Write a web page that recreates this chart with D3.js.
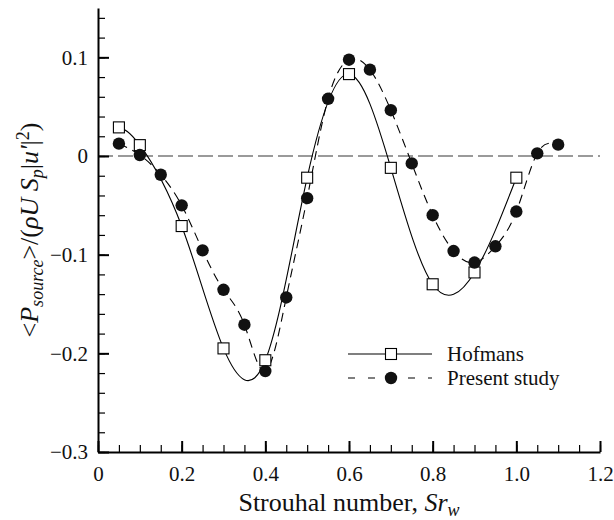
<!DOCTYPE html>
<html><head><meta charset="utf-8">
<script src="https://cdn.jsdelivr.net/npm/d3@7"></script>
</head><body style="margin:0">
<svg id="chart" width="614" height="520"></svg>
<script>
// ---- data ----
const hofmansX = [0.05, 0.1, 0.2, 0.3, 0.4, 0.5, 0.6, 0.7, 0.8, 0.9, 1.0];
const hofmansY = [0.029, 0.011, -0.071, -0.195, -0.207, -0.022, 0.083, -0.012, -0.130, -0.118, -0.022];
const presentX = [0.05, 0.1, 0.15, 0.2, 0.25, 0.3, 0.35, 0.4, 0.45, 0.5, 0.55, 0.6, 0.65, 0.7, 0.75, 0.8, 0.85, 0.9, 0.95, 1.0, 1.05, 1.1];
const presentY = [0.0125, 0.001, -0.019, -0.050, -0.0956, -0.1356, -0.171, -0.218, -0.1434, -0.0427, 0.058, 0.0976, 0.0875, 0.0464, -0.0075, -0.060, -0.0963, -0.108, -0.0915, -0.0563, 0.0027, 0.0115];
const xTicks = [0, 0.2, 0.4, 0.6, 0.8, 1.0, 1.2];
const xTickLabels = ["0", "0.2", "0.4", "0.6", "0.8", "1.0", "1.2"];
const yTicks = [0.1, 0, -0.1, -0.2, -0.3];
const yTickLabels = ["0.1", "0", "\u22120.1", "\u22120.2", "\u22120.3"];
const seriesNames = ["Hofmans", "Present study"];

// ---- layout ----
const W = 614, H = 520;
const m = {left: 98, right: 14, top: 8, bottom: 68};
const svg = d3.select("#chart");
const FONT = "Liberation Serif";
const x = d3.scaleLinear().domain([0, 1.2]).range([m.left, W - m.right]);
const y = d3.scaleLinear().domain([-0.3, 0.15]).range([H - m.bottom, m.top]);

// zero reference line
svg.append("line")
  .attr("x1", x(0)).attr("x2", x(1.2))
  .attr("y1", y(0)).attr("y2", y(0))
  .attr("stroke", "#7a7a7a").attr("stroke-width", 1.6)
  .attr("stroke-dasharray", "15,5");

// minor ticks
const xMinor = d3.range(0, 1.2001, 0.05);
const yMinor = d3.range(-0.3, 0.1501, 0.02);
svg.append("g").attr("transform", `translate(0,${y(-0.3)})`)
  .call(d3.axisBottom(x).tickValues(xMinor).tickSize(-7).tickFormat("").tickSizeOuter(0))
  .call(g => g.select(".domain").remove())
  .call(g => g.selectAll("text").remove())
  .selectAll("line").attr("stroke", "#000").attr("stroke-width", 1.2);
svg.append("g").attr("transform", `translate(${x(0)},0)`)
  .call(d3.axisLeft(y).tickValues(yMinor).tickSize(-7).tickFormat("").tickSizeOuter(0))
  .call(g => g.select(".domain").remove())
  .call(g => g.selectAll("text").remove())
  .selectAll("line").attr("stroke", "#000").attr("stroke-width", 1.2);

// major axes
const xAxis = svg.append("g").attr("transform", `translate(0,${y(-0.3)})`)
  .call(d3.axisBottom(x).tickValues(xTicks).tickSize(-11).tickSizeOuter(0).tickPadding(14)
    .tickFormat((d, i) => xTickLabels[i]));
const yAxis = svg.append("g").attr("transform", `translate(${x(0)},0)`)
  .call(d3.axisLeft(y).tickValues(yTicks).tickSize(-11).tickSizeOuter(0).tickPadding(10)
    .tickFormat((d, i) => yTickLabels[i]));
[xAxis, yAxis].forEach(g => {
  g.attr("font-family", FONT).attr("font-size", 21);
  g.select(".domain").attr("stroke", "#000").attr("stroke-width", 2);
  g.selectAll(".tick line").attr("stroke", "#000").attr("stroke-width", 2);
  g.selectAll("text").attr("fill", "#111").attr("font-family", FONT).attr("font-size", 21);
});
xAxis.selectAll("text").attr("dy", "0.71em");

// curves
const hofmans = hofmansX.map((v, i) => [v, hofmansY[i]]);
const present = presentX.map((v, i) => [v, presentY[i]]);
const line = d3.line().x(d => x(d[0])).y(d => y(d[1])).curve(d3.curveNatural);

svg.append("path").datum(present).attr("d", line)
  .attr("fill", "none").attr("stroke", "#000").attr("stroke-width", 1.1)
  .attr("stroke-dasharray", "9,6");
svg.append("path").datum(hofmans).attr("d", line)
  .attr("fill", "none").attr("stroke", "#000").attr("stroke-width", 1.1);

// markers
const S = 11;
svg.append("g").selectAll("rect").data(hofmans).join("rect")
  .attr("x", d => x(d[0]) - S / 2).attr("y", d => y(d[1]) - S / 2)
  .attr("width", S).attr("height", S)
  .attr("fill", "#fff").attr("stroke", "#000").attr("stroke-width", 1.1);
svg.append("g").selectAll("circle").data(present).join("circle")
  .attr("cx", d => x(d[0])).attr("cy", d => y(d[1])).attr("r", 6.2)
  .attr("fill", "#111");

// legend
const lg = svg.append("g");
const lx1 = 348, lx2 = 432, lyy = [354, 378];
lg.append("line").attr("x1", lx1).attr("x2", lx2).attr("y1", lyy[0]).attr("y2", lyy[0])
  .attr("stroke", "#000").attr("stroke-width", 1.1);
lg.append("rect").attr("x", (lx1 + lx2) / 2 - S / 2 + 1).attr("y", lyy[0] - S / 2)
  .attr("width", S).attr("height", S).attr("fill", "#fff").attr("stroke", "#000").attr("stroke-width", 1.1);
lg.append("line").attr("x1", lx1).attr("x2", lx2).attr("y1", lyy[1]).attr("y2", lyy[1])
  .attr("stroke", "#000").attr("stroke-width", 1.1).attr("stroke-dasharray", "7,13");
lg.append("circle").attr("cx", (lx1 + lx2) / 2 + 1).attr("cy", lyy[1]).attr("r", 6.2).attr("fill", "#111");
seriesNames.forEach((n, i) => {
  svg.append("text").attr("x", 447).attr("y", lyy[i] + 7)
    .attr("font-family", FONT).attr("font-size", 21).attr("fill", "#111").text(n);
});

// x title
const xt = svg.append("text").attr("x", (x(0) + x(1.2)) / 2).attr("y", 511)
  .attr("text-anchor", "middle").attr("font-family", FONT).attr("font-size", 26).attr("fill", "#111");
xt.append("tspan").text("Strouhal number, ");
xt.append("tspan").attr("font-style", "italic").text("Sr");
xt.append("tspan").attr("font-style", "italic").attr("font-size", 18).attr("dy", 5).text("w");

// y title (angle brackets as plain < > so every glyph exists in the serif font)
const yt = svg.append("text")
  .attr("transform", `translate(38,${(y(-0.3) + y(0.15)) / 2}) rotate(-90)`)
  .attr("text-anchor", "middle").attr("font-family", FONT).attr("font-size", 26).attr("fill", "#111");
yt.append("tspan").text("<");
yt.append("tspan").attr("font-style", "italic").text("P");
yt.append("tspan").attr("font-style", "italic").attr("font-size", 18).attr("dy", 5).text("source");
yt.append("tspan").attr("dy", -5).text(">/(");
yt.append("tspan").attr("font-style", "italic").text("\u03C1U S");
yt.append("tspan").attr("font-style", "italic").attr("font-size", 18).attr("dy", 5).text("p");
yt.append("tspan").attr("dy", -5).text("|");
yt.append("tspan").attr("font-style", "italic").text("u'");
yt.append("tspan").text("|");
yt.append("tspan").attr("font-size", 18).attr("dy", -9).text("2");
yt.append("tspan").attr("dy", 9).text(")");
</script>
</body></html>
